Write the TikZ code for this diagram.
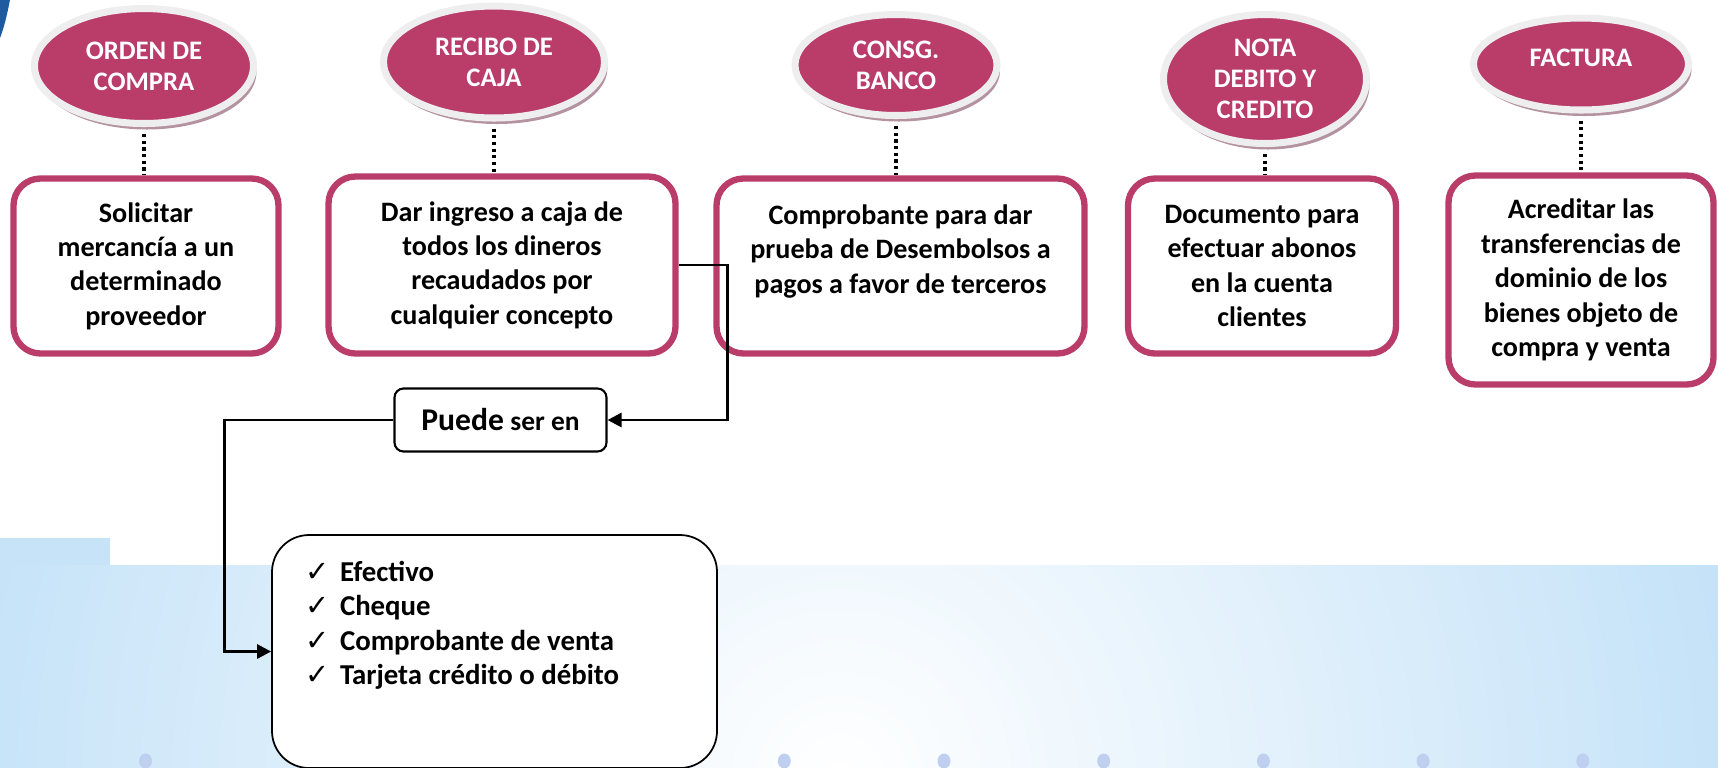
\documentclass[tikz,border=0pt]{standalone}
\usepackage{fontspec}
\setmainfont{Carlito}
\newfontfamily\symfont{DejaVu Sans}
\usetikzlibrary{shapes.geometric, shadows, arrows.meta}

\definecolor{rosa}{RGB}{185,60,105}
\definecolor{rosashadow}{RGB}{180,146,160}
\definecolor{ringgray}{RGB}{238,238,238}
\definecolor{bandblue}{RGB}{180,218,246}
\definecolor{dotblue}{RGB}{191,207,240}
\definecolor{swoosh}{RGB}{30,90,160}

\newcommand{\chk}{\makebox[0.35cm][l]{\symfont\mdseries ✓}}

\begin{document}
\begin{tikzpicture}[
    font=\fontsize{8}{9.8}\selectfont\bfseries,
    doc/.style={ellipse, fill=rosa, draw=ringgray, line width=2pt, text=white, align=center, inner sep=0pt,
        font=\fontsize{7.6}{8.9}\selectfont\bfseries,
        drop shadow={shadow xshift=0.03cm, shadow yshift=-0.06cm, fill=rosashadow, opacity=1}},
    info/.style={rectangle, rounded corners=0.27cm, draw=rosa, line width=1.8pt, fill=white, align=center},
    dotline/.style={black, line width=0.9pt, densely dotted},
    smallbox/.style={rectangle, draw=black, line width=0.6pt, fill=white},
    arr/.style={black, line width=0.8pt, -{Triangle[length=0.14cm, width=0.14cm]}}
]
\useasboundingbox (0,0) rectangle (17.18,-7.67);

% --- Fondo ---
\fill[bandblue] (0,-5.65) rectangle (17.18,-7.67);
\begin{scope}
    \clip (0,-5.65) rectangle (17.18,-7.67);
    \shade[inner color=white, outer color=bandblue] (8.4,-7.8) circle (11.5);
\end{scope}
\fill[bandblue!75!white] (0,-5.38) rectangle (1.10,-5.65);
\fill[swoosh] (0,0) -- (0.1,0) .. controls (0.07,-0.15) and (0.04,-0.28) .. (0,-0.38) -- cycle;
\foreach \i in {0,...,9}
    \fill[dotblue] ({1.455+1.597*\i},-7.61) ellipse (0.065 and 0.075);

% --- Documentos ---
\node[doc, minimum width=2.19cm, minimum height=1.15cm] (orden) at (1.44,-0.66) {ORDEN DE\\COMPRA};
\node[doc, minimum width=2.21cm, minimum height=1.12cm] (recibo) at (4.94,-0.62) {RECIBO DE\\CAJA};
\node[doc, minimum width=2.02cm, minimum height=1.01cm] (consig) at (8.96,-0.65) {CONSG.\\BANCO};
\node[doc, minimum width=2.03cm, minimum height=1.29cm] (nota) at (12.65,-0.79) {NOTA\\DEBITO Y\\CREDITO};
\node[doc, minimum width=2.15cm, minimum height=0.92cm, text depth=0.12cm] (factura) at (15.81,-0.64) {FACTURA};

% --- Descripciones ---
\node[info, minimum width=2.65cm, minimum height=1.75cm] (solicitar) at (1.46,-2.66)
    {Solicitar\\mercancía a un\\determinado\\proveedor};
\node[info, minimum width=3.47cm, minimum height=1.77cm] (ingreso) at (5.02,-2.65)
    {Dar ingreso a caja de\\todos los dineros\\recaudados por\\cualquier concepto};
\node[info, minimum width=3.68cm, minimum height=1.75cm] (desembolso) at (9.005,-2.66)
    {Comprobante para dar\\prueba de Desembolsos a\\pagos a favor de terceros\\\mbox{}};
\node[info, minimum width=2.68cm, minimum height=1.75cm] (abonos) at (12.62,-2.66)
    {Documento para\\efectuar abonos\\en la cuenta\\clientes};
\node[info, minimum width=2.65cm, minimum height=2.09cm] (acreditar) at (15.81,-2.80)
    {Acreditar las\\transferencias de\\dominio de los\\bienes objeto de\\compra y venta};

% Dotted links
\draw[dotline, shorten <=0.07cm] (orden.south) -- (orden.south |- solicitar.north);
\draw[dotline, shorten <=0.07cm] (recibo.south) -- (recibo.south |- ingreso.north);
\draw[dotline, shorten <=0.07cm] (consig.south) -- (consig.south |- desembolso.north);
\draw[dotline, shorten <=0.07cm] (nota.south) -- (nota.south |- abonos.north);
\draw[dotline, shorten <=0.07cm] (factura.south) -- (factura.south |- acreditar.north);

% --- Formas de pago ---
\node[smallbox, rounded corners=0.09cm, minimum width=2.12cm, minimum height=0.63cm] (puede) at (5.005,-4.20)
    {{\fontsize{9}{11}\selectfont Puede} {\fontsize{7.8}{9}\selectfont ser en}};
\node[smallbox, line width=0.5pt, rounded corners=0.37cm, minimum width=4.45cm, minimum height=2.33cm, inner sep=0pt] (formas) at (4.945,-6.515)
    {\parbox[c][1.81cm][t]{3.79cm}{\fontsize{8.2}{9.8}\selectfont
    \chk Efectivo\\ \chk Cheque\\ \chk Comprobante de venta\\ \chk Tarjeta crédito o débito}};

% Arrows
\draw[arr] (ingreso.east) -- ++(0.485,0) |- (puede.east);
\draw[arr] (puede.west) -- ++(-1.69,0) |- (formas.west);

\end{tikzpicture}
\end{document}
